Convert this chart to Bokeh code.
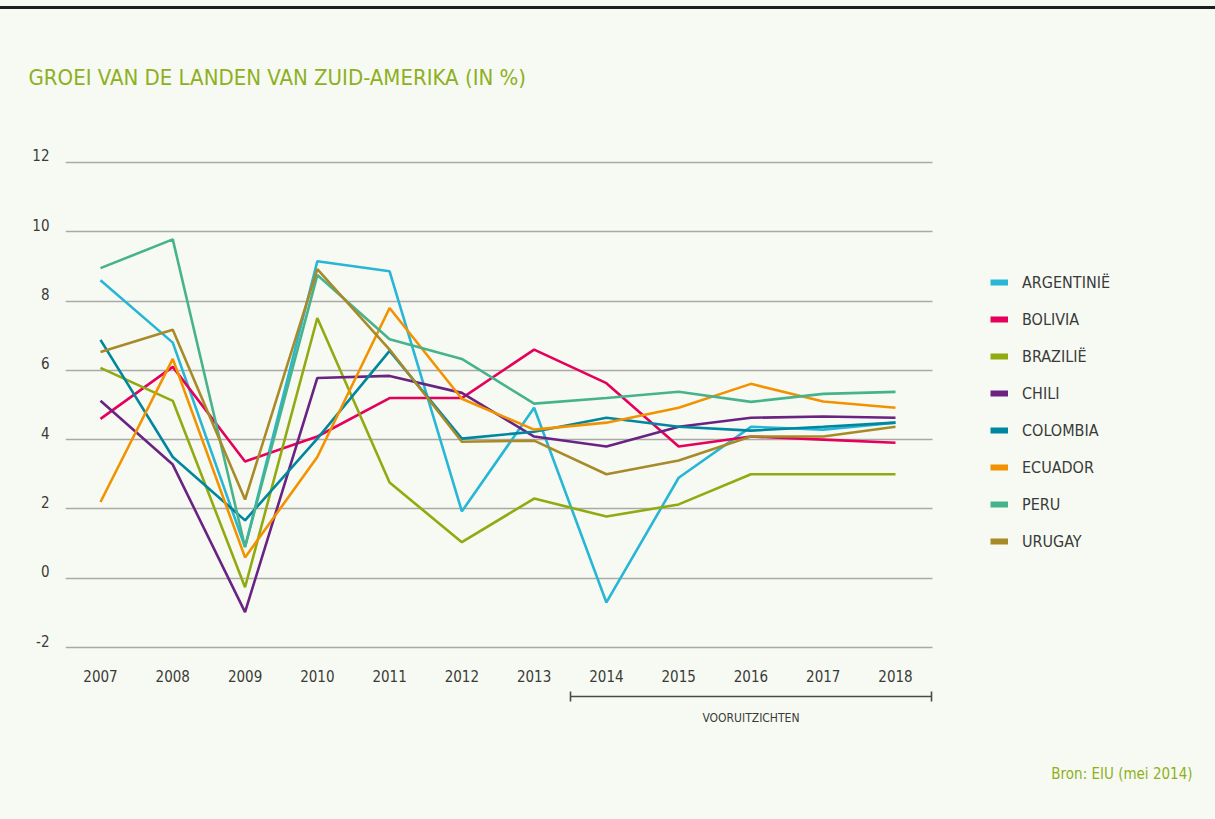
from bokeh.plotting import figure
from bokeh.models import (Legend, LegendItem, FixedTicker, Range1d, LinearAxis, Title)
from bokeh.embed import file_html
from bokeh.resources import INLINE

# ---------------- data ----------------
years = [2007, 2008, 2009, 2010, 2011, 2012, 2013, 2014, 2015, 2016, 2017, 2018]
argentinie = [8.6, 6.8, 0.9, 9.15, 8.86, 1.93, 4.92, -0.7, 2.9, 4.37, 4.29, 4.49]
bolivia = [4.6, 6.1, 3.37, 4.09, 5.2, 5.2, 6.6, 5.63, 3.8, 4.09, 4.0, 3.91]
brazilie = [6.07, 5.12, -0.26, 7.51, 2.76, 1.04, 2.3, 1.78, 2.13, 3.0, 3.0, 3.0]
chili = [5.12, 3.28, -0.98, 5.78, 5.84, 5.35, 4.09, 3.8, 4.37, 4.63, 4.67, 4.63]
colombia = [6.88, 3.5, 1.67, 4.03, 6.56, 4.03, 4.23, 4.63, 4.37, 4.26, 4.37, 4.49]
ecuador = [2.2, 6.33, 0.6, 3.5, 7.8, 5.18, 4.29, 4.49, 4.92, 5.61, 5.1, 4.92]
peru = [8.95, 9.78, 0.9, 8.75, 6.9, 6.33, 5.04, 5.2, 5.38, 5.09, 5.32, 5.38]
uruguay = [6.53, 7.17, 2.27, 8.92, 6.6, 3.94, 3.97, 3.0, 3.4, 4.09, 4.09, 4.37]

countries = ["ARGENTINIË", "BOLIVIA", "BRAZILIË", "CHILI", "COLOMBIA", "ECUADOR", "PERU", "URUGAY"]
series = [argentinie, bolivia, brazilie, chili, colombia, ecuador, peru, uruguay]
colors = ["#27B6D6", "#E4005B", "#92AA12", "#6A2382", "#00879F", "#F39200", "#47B38D", "#A88A29"]

y_ticks = [-2, 0, 2, 4, 6, 8, 10, 12]
y_tick_labels = ["-2", "0", "2", "4", "6", "8", "10", "12"]
forecast_start, forecast_mid, forecast_end = 2013.5, 2016, 2018.5
forecast_label = "VOORUITZICHTEN"
title_text = "GROEI VAN DE LANDEN VAN ZUID-AMERIKA (IN %)"
source_text = "Bron: EIU (mei 2014)"

# ---------------- layout ----------------
BG = "#F7FAF2"
FONT = "DejaVu Sans Condensed"
GREEN = "#8DB022"
DARK = "#3A3A3A"

W, H = 1213, 817
fl, ft, fb = 65, 152, 651                     # frame edges in canvas px (frame runs to the right edge)
grid_right = 932
ppx = (895 - 100) / 11.0                      # px per year
x0 = 2007 - (100 - fl) / ppx
x1 = x0 + (W - fl) / ppx
xg = x0 + (grid_right - fl) / ppx
ppy = (648 - 162) / 14.0                      # px per unit
y0 = -2 - (fb - 648) / ppy
y1 = 12 + (162 - ft) / ppy
lift = 7 / ppy                                # y labels sit a little above their grid line

p = figure(width=W, height=H, output_backend="svg", toolbar_location=None,
           x_range=Range1d(x0, x1), y_range=Range1d(y0, y1),
           y_axis_location=None,
           min_border_left=fl, min_border_right=0,
           min_border_top=ft, min_border_bottom=H - fb)
p.background_fill_color = BG
p.border_fill_color = BG
p.outline_line_color = None

# title
p.title.text = title_text
p.title.align = "left"
p.title.vertical_align = "top"
p.title.offset = 28 - fl
p.title.standoff = 121
p.title.text_font = FONT
p.title.text_font_size = "22px"
p.title.text_font_style = "normal"
p.title.text_color = GREEN

p.xgrid.visible = False
p.ygrid.ticker = FixedTicker(ticks=y_ticks)
p.ygrid.cross_bounds = (x0, xg)
p.ygrid.grid_line_color = "#A9A9A9"
p.ygrid.grid_line_width = 1.3

# y labels on a slightly shifted range so that they sit just above the grid lines
p.extra_y_ranges = {"lbl": Range1d(y0 - lift, y1 - lift)}
ya = LinearAxis(y_range_name="lbl", ticker=FixedTicker(ticks=y_ticks),
                major_label_overrides={t: s for t, s in zip(y_ticks, y_tick_labels)},
                axis_line_color=None, major_tick_line_color=None, minor_tick_line_color=None,
                major_tick_out=0, major_tick_in=0, major_label_standoff=16,
                major_label_text_font=FONT, major_label_text_font_size="15px",
                major_label_text_color=DARK)
p.add_layout(ya, "left")

xa = p.xaxis[0]
xa.ticker = FixedTicker(ticks=years)
xa.axis_line_color = None
xa.major_tick_line_color = None
xa.minor_tick_line_color = None
xa.major_tick_out = 0
xa.major_tick_in = 0
xa.major_label_standoff = 19
xa.major_label_text_font = FONT
xa.major_label_text_font_size = "15px"
xa.major_label_text_color = DARK
xa.axis_label = " "
xa.axis_label_text_font_size = "8px"
xa.axis_label_standoff = 0

# forecast bracket as a bounded secondary axis
fa = LinearAxis(ticker=FixedTicker(ticks=[forecast_mid], minor_ticks=[forecast_start, forecast_end]),
                bounds=(forecast_start, forecast_end),
                major_label_overrides={forecast_mid: forecast_label},
                axis_line_color="#4A4A4A", axis_line_width=1.6,
                major_tick_line_color=None, major_tick_out=0, major_tick_in=0,
                minor_tick_line_color="#4A4A4A", minor_tick_line_width=1.6,
                minor_tick_in=5, minor_tick_out=5,
                major_label_standoff=9,
                major_label_text_font=FONT, major_label_text_font_size="12px",
                major_label_text_color=DARK)
p.add_layout(fa, "below")

# source line
p.add_layout(Title(text=source_text, align="right", vertical_align="bottom",
                   offset=W - 1192, standoff=70,
                   text_font=FONT, text_font_size="15px", text_font_style="normal",
                   text_color=GREEN), "below")

for name, vals, c in zip(countries, series, colors):
    p.line(years, vals, line_color=c, line_width=2.6)

items = []
for name, c in zip(countries, colors):
    swatch = p.line([float("nan")], [float("nan")], line_color=c, line_width=6)
    items.append(LegendItem(label=name, renderers=[swatch]))

legend = Legend(items=items, location=(990 - fl, fb - 552), orientation="vertical",
                glyph_width=18, glyph_height=20, label_height=20, spacing=17,
                label_standoff=14, padding=0, margin=0,
                border_line_color=None, background_fill_alpha=0,
                label_text_font=FONT, label_text_font_size="16px", label_text_color=DARK)
p.add_layout(legend, "center")

html = file_html(p, INLINE)
css = ("<style>html,body{background-color:%s !important;}"
       "body::before{content:'';position:fixed;left:0;right:0;top:6px;height:3px;"
       "background:#1E1E1E;z-index:10;}</style></head>" % BG)
html = html.replace("</head>", css, 1)
open("out.html", "w").write(html)
